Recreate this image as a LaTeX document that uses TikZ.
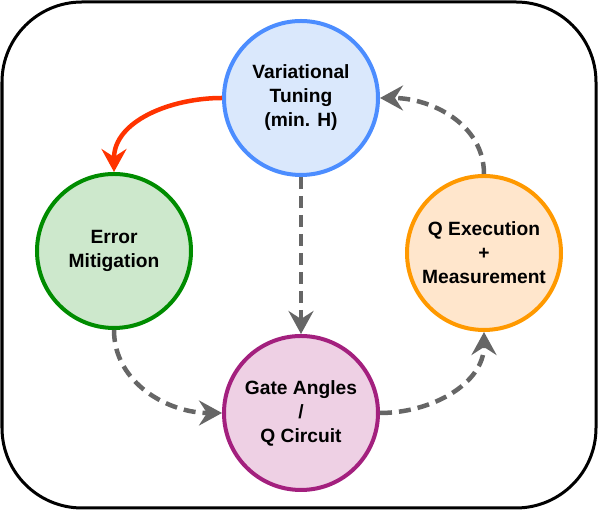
\documentclass[tikz,border=0pt]{standalone}
\usepackage{fontspec}
\setmainfont{Liberation Sans}
\usetikzlibrary{arrows.meta}

\definecolor{tunefill}{HTML}{DAE8FC}
\definecolor{tunedraw}{HTML}{4C8DFF}
\definecolor{mitigfill}{HTML}{CDE8CC}
\definecolor{mitigdraw}{HTML}{008C00}
\definecolor{execfill}{HTML}{FFE6CC}
\definecolor{execdraw}{HTML}{FF9900}
\definecolor{gatefill}{HTML}{EED0E4}
\definecolor{gatedraw}{HTML}{A3207E}
\definecolor{flowgray}{HTML}{666666}
\definecolor{flowred}{HTML}{FF3300}

\begin{document}
\begin{tikzpicture}[
  x=1pt, y=1pt,
  >={Stealth[length=23pt,width=25pt,inset=8pt]},
  stage/.style={circle, line width=4pt, minimum size=154pt, inner sep=0pt,
    align=center, font=\bfseries\fontsize{19.2}{24}\selectfont},
  flow/.style={->, line width=4.5pt, draw=flowgray, dash pattern=on 12pt off 7pt},
]
\useasboundingbox (0,0) rectangle (598,510);
\draw[line width=3pt, rounded corners=80pt] (2,2) rectangle (596,508);

% the four stages of the loop
\node[stage, fill=tunefill, draw=tunedraw] (tune) at (301,412) {Variational\\Tuning\\(min. H)};
\node[stage, fill=mitigfill, draw=mitigdraw] (mitig) at (114,259) {Error\\Mitigation};
\node[stage, fill=execfill, draw=execdraw] (exec) at (484,257) {Q Execution\\+\\Measurement};
\node[stage, fill=gatefill, draw=gatedraw] (gate) at (301,97) {Gate Angles\\/\\Q Circuit};

% connectors
\draw[->, line width=4.5pt, draw=flowred] (tune.west) to[out=180, in=90] (mitig.north);
\draw[flow] (tune.south) -- (gate.north);
\draw[flow] (mitig.south) to[out=-90, in=180] (gate.west);
\draw[flow] (gate.east) to[out=0, in=-90] (exec.south);
\draw[flow] (exec.north) to[out=90, in=0] (tune.east);
\end{tikzpicture}
\end{document}
